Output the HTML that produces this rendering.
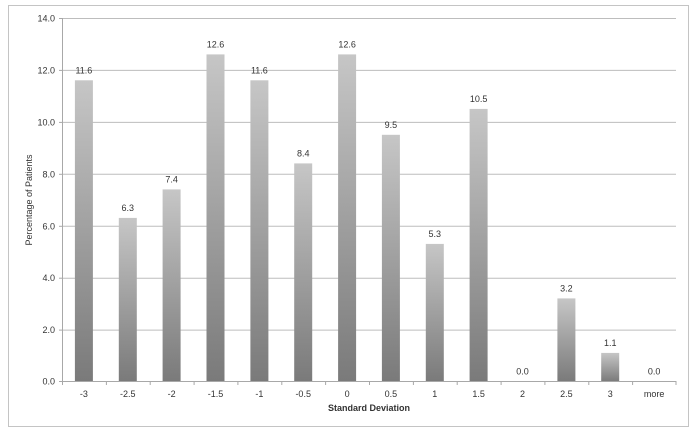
<!DOCTYPE html>
<html>
<head>
<meta charset="utf-8">
<style>
  html,body{margin:0;padding:0;background:#fff;}
  svg{display:block;}
  text{font-family:"Liberation Sans",sans-serif;fill:#333;}
</style>
</head>
<body>
<svg width="700" height="436" viewBox="0 0 700 436" xmlns="http://www.w3.org/2000/svg">
  <defs>
    <linearGradient id="g" x1="0" y1="0" x2="0" y2="1">
      <stop offset="0" stop-color="#c6c6c6"/>
      <stop offset="1" stop-color="#7a7a7a"/>
    </linearGradient>
  </defs>
  <rect x="0" y="0" width="700" height="436" fill="#fff"/>
  <rect x="8.5" y="5.5" width="680" height="421" fill="#fff" stroke="#c4c4c4" stroke-width="1"/>

  <!-- gridlines -->
  <g stroke="#bdbdbd" stroke-width="1">
    <line x1="62" y1="18.5" x2="676" y2="18.5"/>
    <line x1="62" y1="70.4" x2="676" y2="70.4"/>
    <line x1="62" y1="122.4" x2="676" y2="122.4"/>
    <line x1="62" y1="174.3" x2="676" y2="174.3"/>
    <line x1="62" y1="226.3" x2="676" y2="226.3"/>
    <line x1="62" y1="278.2" x2="676" y2="278.2"/>
    <line x1="62" y1="330.1" x2="676" y2="330.1"/>
  </g>

  <!-- bars -->
  <g fill="url(#g)">
    <rect x="74.9" y="80.3" width="18" height="301.2"/>
    <rect x="118.8" y="217.9" width="18" height="163.6"/>
    <rect x="162.6" y="189.4" width="18" height="192.1"/>
    <rect x="206.5" y="54.4" width="18" height="327.1"/>
    <rect x="250.4" y="80.3" width="18" height="301.2"/>
    <rect x="294.2" y="163.4" width="18" height="218.1"/>
    <rect x="338.1" y="54.4" width="18" height="327.1"/>
    <rect x="381.9" y="134.8" width="18" height="246.7"/>
    <rect x="425.8" y="243.9" width="18" height="137.6"/>
    <rect x="469.6" y="108.9" width="18" height="272.6"/>
    <rect x="557.4" y="298.4" width="18" height="83.1"/>
    <rect x="601.2" y="352.9" width="18" height="28.6"/>
  </g>

  <!-- axes -->
  <g stroke="#a8a8a8" stroke-width="1">
    <line x1="62.5" y1="18" x2="62.5" y2="382"/>
    <line x1="62" y1="381.5" x2="676" y2="381.5"/>
    <!-- y ticks -->
    <line x1="59" y1="18.5" x2="62" y2="18.5"/>
    <line x1="59" y1="70.4" x2="62" y2="70.4"/>
    <line x1="59" y1="122.4" x2="62" y2="122.4"/>
    <line x1="59" y1="174.3" x2="62" y2="174.3"/>
    <line x1="59" y1="226.3" x2="62" y2="226.3"/>
    <line x1="59" y1="278.2" x2="62" y2="278.2"/>
    <line x1="59" y1="330.1" x2="62" y2="330.1"/>
    <line x1="59" y1="381.5" x2="62" y2="381.5"/>
    <!-- x ticks -->
    <line x1="62.5" y1="381" x2="62.5" y2="385"/>
    <line x1="106.4" y1="381" x2="106.4" y2="385"/>
    <line x1="150.2" y1="381" x2="150.2" y2="385"/>
    <line x1="194.1" y1="381" x2="194.1" y2="385"/>
    <line x1="237.9" y1="381" x2="237.9" y2="385"/>
    <line x1="281.8" y1="381" x2="281.8" y2="385"/>
    <line x1="325.6" y1="381" x2="325.6" y2="385"/>
    <line x1="369.5" y1="381" x2="369.5" y2="385"/>
    <line x1="413.4" y1="381" x2="413.4" y2="385"/>
    <line x1="457.2" y1="381" x2="457.2" y2="385"/>
    <line x1="501.1" y1="381" x2="501.1" y2="385"/>
    <line x1="544.9" y1="381" x2="544.9" y2="385"/>
    <line x1="588.8" y1="381" x2="588.8" y2="385"/>
    <line x1="632.6" y1="381" x2="632.6" y2="385"/>
    <line x1="676" y1="381" x2="676" y2="385"/>
  </g>

  <!-- y tick labels -->
  <g font-size="9" text-anchor="end">
    <text x="55" y="21.5">14.0</text>
    <text x="55" y="73.4">12.0</text>
    <text x="55" y="125.4">10.0</text>
    <text x="55" y="177.3">8.0</text>
    <text x="55" y="229.3">6.0</text>
    <text x="55" y="281.2">4.0</text>
    <text x="55" y="333.1">2.0</text>
    <text x="55" y="384.5">0.0</text>
  </g>

  <!-- x tick labels -->
  <g font-size="9" text-anchor="middle">
    <text x="83.9" y="397">-3</text>
    <text x="127.8" y="397">-2.5</text>
    <text x="171.6" y="397">-2</text>
    <text x="215.5" y="397">-1.5</text>
    <text x="259.4" y="397">-1</text>
    <text x="303.2" y="397">-0.5</text>
    <text x="347.1" y="397">0</text>
    <text x="390.9" y="397">0.5</text>
    <text x="434.8" y="397">1</text>
    <text x="478.6" y="397">1.5</text>
    <text x="522.5" y="397">2</text>
    <text x="566.4" y="397">2.5</text>
    <text x="610.2" y="397">3</text>
    <text x="654.1" y="397">more</text>
  </g>

  <!-- data labels -->
  <g font-size="9" text-anchor="middle">
    <text x="83.9" y="73.3">11.6</text>
    <text x="127.8" y="210.9">6.3</text>
    <text x="171.6" y="182.4">7.4</text>
    <text x="215.5" y="47.4">12.6</text>
    <text x="259.4" y="73.3">11.6</text>
    <text x="303.2" y="156.4">8.4</text>
    <text x="347.1" y="47.4">12.6</text>
    <text x="390.9" y="127.8">9.5</text>
    <text x="434.8" y="236.9">5.3</text>
    <text x="478.6" y="101.9">10.5</text>
    <text x="522.5" y="374.5">0.0</text>
    <text x="566.4" y="291.4">3.2</text>
    <text x="610.2" y="345.9">1.1</text>
    <text x="654.1" y="374.5">0.0</text>
  </g>

  <!-- axis titles -->
  <text x="369" y="411" font-size="9" font-weight="bold" text-anchor="middle">Standard Deviation</text>
  <text x="0" y="0" font-size="9" text-anchor="middle" transform="translate(32,200) rotate(-90)">Percentage of Patients</text>
</svg>
</body>
</html>
